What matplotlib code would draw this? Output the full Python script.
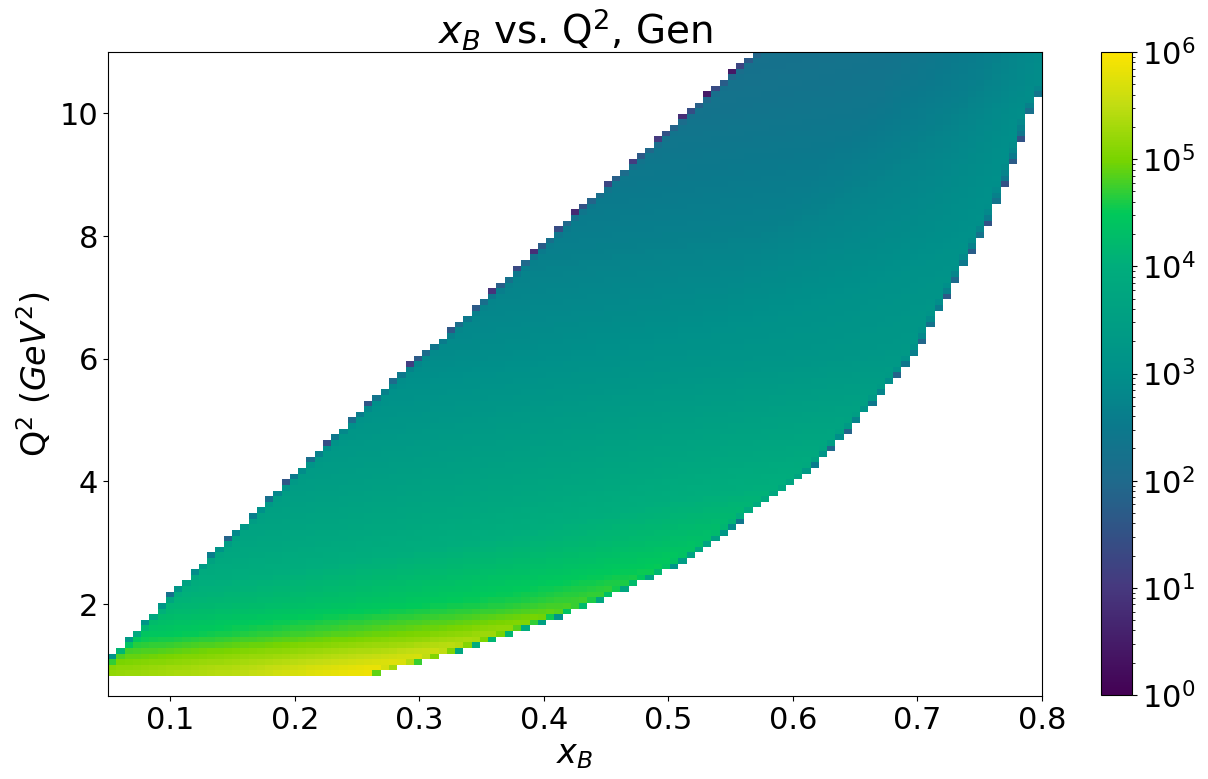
import numpy as np
import matplotlib
matplotlib.use("Agg")
import matplotlib.pyplot as plt
from matplotlib.colors import LogNorm, LinearSegmentedColormap

# kinematic limits of the generated sample (xB, Q2)
upper_x = [0.050, 0.060, 0.108, 0.172, 0.236, 0.290, 0.322, 0.364, 0.423, 0.482, 0.575]
upper_q2 = [0.98, 1.20, 2.23, 3.49, 4.74, 5.79, 6.33, 7.11, 8.26, 9.33, 11.03]
lower_x = [0.262, 0.311, 0.367, 0.437, 0.498, 0.526, 0.562, 0.605, 0.659, 0.696,
           0.728, 0.757, 0.776, 0.788, 0.799]
lower_q2 = [0.89, 1.16, 1.52, 2.03, 2.59, 2.93, 3.49, 4.08, 5.23, 6.11,
            7.31, 8.34, 9.33, 10.05, 10.46]
q2_min = 0.84

# log10(counts per bin) vs Q2 (rows) and position across the band (cols)
q2_nodes = [0.85, 1.2, 1.5, 2.0, 3.0, 4.0, 6.0, 8.0, 10.0, 11.0]
t_nodes = [0.0, 0.5, 0.8, 1.0]
log_counts = [
    [5.25, 5.55, 5.85, 5.97],
    [4.80, 5.20, 5.45, 5.65],
    [4.40, 4.80, 5.05, 5.30],
    [4.10, 4.40, 4.60, 4.80],
    [3.70, 4.00, 4.20, 4.35],
    [3.40, 3.70, 3.90, 4.00],
    [2.90, 3.10, 3.20, 3.30],
    [2.60, 2.70, 2.90, 3.05],
    [2.30, 2.40, 2.70, 3.00],
    [2.20, 2.30, 2.60, 2.90],
]

x_edges = np.linspace(0.05, 0.8, 114)
y_edges = np.linspace(0.0, 11.0, 121)


def density(x, q2):
    xu = np.interp(q2, upper_q2, upper_x)
    xl = np.interp(q2, lower_q2, lower_x)
    t = np.clip((x - xu) / np.maximum(xl - xu, 1e-6), 0, 1)
    table = np.array(log_counts)
    rows = np.array([np.interp(t, t_nodes, r) for r in table])  # (K, N)
    qn = np.array(q2_nodes)
    qc = np.clip(q2, qn[0], qn[-1])
    k = np.clip(np.searchsorted(qn, qc) - 1, 0, len(qn) - 2)
    w = (qc - qn[k]) / (qn[k + 1] - qn[k])
    idx = np.arange(len(x))
    lg = rows[k, idx] * (1 - w) + rows[k + 1, idx] * w
    inside = (q2 <= np.interp(x, upper_x, upper_q2, right=99)) & \
             (q2 >= np.maximum(q2_min, np.interp(x, lower_x, lower_q2, left=0))) & \
             (x <= 0.8)
    return np.where(inside, 10 ** lg, 0.0)


# integrate the density over each bin with a sub-grid
ns = 8
fx = (np.arange(ns) + 0.5) / ns
xs = (x_edges[:-1, None] + np.diff(x_edges)[:, None] * fx).ravel()
ys = (y_edges[:-1, None] + np.diff(y_edges)[:, None] * fx).ravel()
XX, YY = np.meshgrid(xs, ys, indexing="ij")
vals = density(XX.ravel(), YY.ravel()).reshape(len(xs), len(ys))
H = vals.reshape(len(x_edges) - 1, ns, len(y_edges) - 1, ns).mean(axis=(1, 3))
H = np.ma.masked_less(H, 1.0)

cmap = LinearSegmentedColormap.from_list("gen", list(zip(
    [0, 0.167, 0.333, 0.42, 0.5, 0.667, 0.75, 0.833, 0.92, 1.0],
    ['#440154', '#46397f', '#1f6a8c', '#0a7a8c', '#00908a', '#00ad7c',
     '#00c95a', '#78d400', '#c2dd12', '#fde400'])))

fig = plt.figure(figsize=(12.08, 7.79), dpi=100)
ax = fig.add_axes([108 / 1208, 1 - 696 / 779, 934 / 1208, 644 / 779])
cax = fig.add_axes([1101 / 1208, 1 - 695 / 779, 31 / 1208, 643 / 779])

mesh = ax.pcolormesh(x_edges, y_edges, H.T, cmap=cmap, norm=LogNorm(1, 1e6))
ax.set_xlim(0.05, 0.8)
ax.set_ylim(0.5, 11)
ax.set_xticks([0.1, 0.2, 0.3, 0.4, 0.5, 0.6, 0.7, 0.8])
ax.set_yticks([2, 4, 6, 8, 10])
ax.tick_params(labelsize=22)
ax.set_xlabel("$x_B$", fontsize=24, labelpad=2)
ax.set_ylabel("Q$^2$ ($GeV^2$)", fontsize=24)
ax.set_title("$x_B$ vs. Q$^2$, Gen", fontsize=28)

cb = fig.colorbar(mesh, cax=cax)
cb.ax.tick_params(labelsize=22)

fig.savefig("out.png", dpi=100)
